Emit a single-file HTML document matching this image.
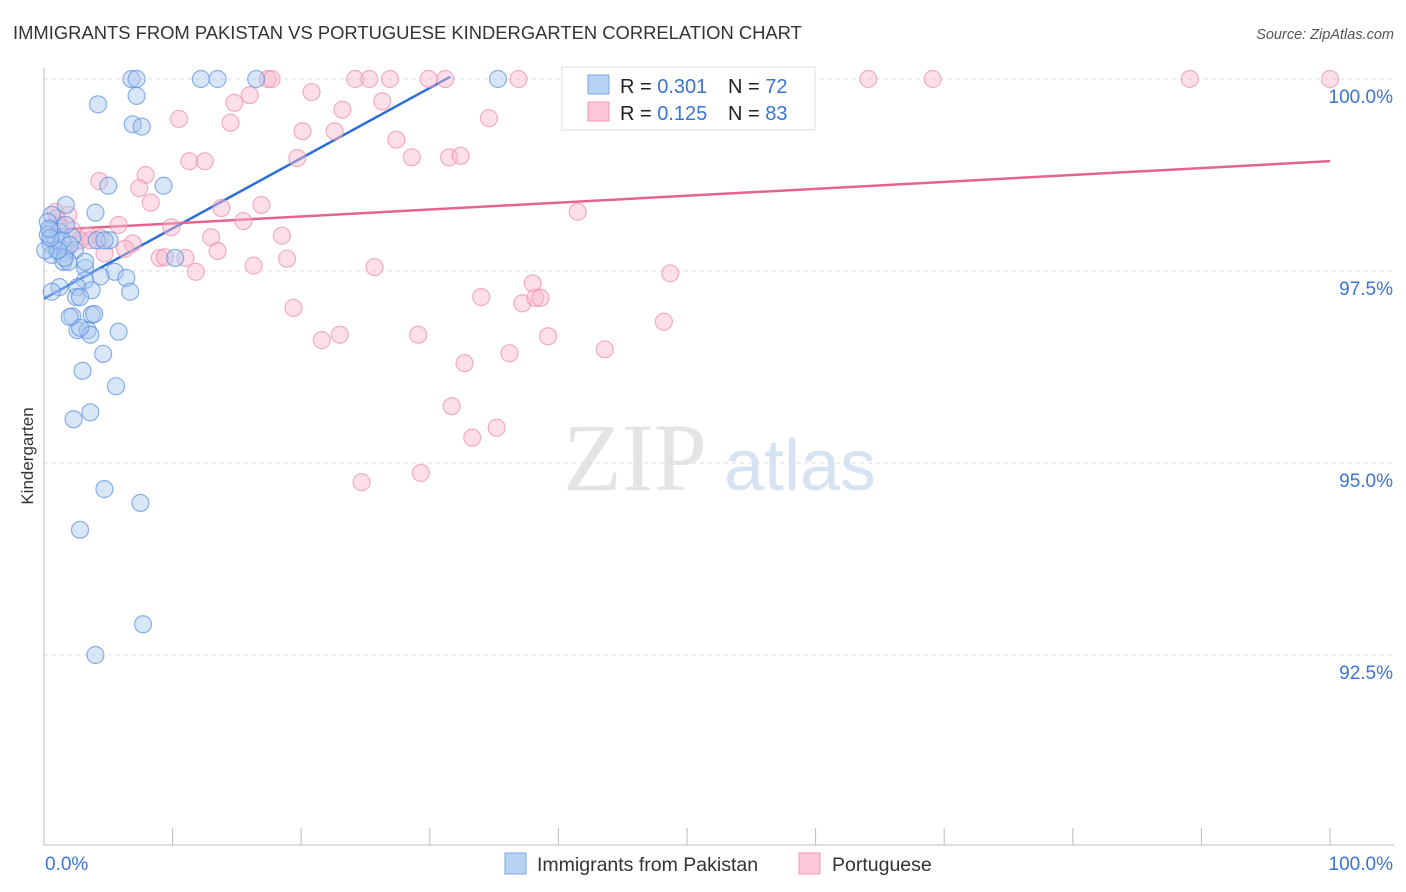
<!DOCTYPE html>
<html><head><meta charset="utf-8"><style>
body{margin:0;background:#fff;font-family:"Liberation Sans",sans-serif;}
svg{display:block}
</style></head><body>
<svg id="chart" width="1406" height="892" xmlns="http://www.w3.org/2000/svg">
<text x="13" y="39" font-size="18.4" fill="#333">IMMIGRANTS FROM PAKISTAN VS PORTUGUESE KINDERGARTEN CORRELATION CHART</text>
<text x="1394" y="39" font-size="14.5" fill="#555" font-style="italic" text-anchor="end">Source: ZipAtlas.com</text>
<text x="33" y="456" font-size="17" fill="#333" text-anchor="middle" transform="rotate(-90 33 456)">Kindergarten</text>
<g><text x="635" y="490" font-size="96" font-family="Liberation Serif,serif" fill="#e4e4e4" text-anchor="middle">ZIP</text><text x="800" y="490" font-size="72" fill="#d6e3f3" text-anchor="middle">atlas</text></g>
<g id="grid"></g><g id="axes"></g><g id="trend"></g><g id="pts"></g>
<g>
<rect x="562" y="67" width="253" height="63" fill="#fff" stroke="#ddd"/>
<rect x="588" y="75" width="21" height="19" fill="#b8d2f3" stroke="#7aaae6"/>
<rect x="588" y="102" width="21" height="19" fill="#fcc8d8" stroke="#f09ab5"/>
<text x="620" y="93" font-size="20" fill="#222">R = <tspan fill="#3a74d4">0.301</tspan></text>
<text x="728" y="93" font-size="20" fill="#222">N = <tspan fill="#3a74d4">72</tspan></text>
<text x="620" y="120" font-size="20" fill="#222">R = <tspan fill="#3a74d4"> 0.125</tspan></text>
<text x="728" y="120" font-size="20" fill="#222">N = <tspan fill="#3a74d4">83</tspan></text>
</g>
<g>
<rect x="505" y="853" width="21" height="21" fill="#b8d2f3" stroke="#7aaae6"/>
<text x="537" y="871" font-size="19.5" fill="#333">Immigrants from Pakistan</text>
<rect x="799" y="853" width="21" height="21" fill="#fcc8d8" stroke="#f09ab5"/>
<text x="832" y="871" font-size="19.5" fill="#333">Portuguese</text>
</g>
</svg>
<script>
const blueX=[6.8,7.2,12.2,13.5,16.5,35.3,4.2,7.2,6.9,7.6,9.3,5.0,1.7,4.0,0.6,0.3,0.6,1.2,2.2,5.1,4.1,0.5,1.0,1.6,2.4,0.6,1.5,1.9,10.2,3.2,5.5,6.4,3.2,1.2,2.6,3.7,0.6,6.7,2.5,2.2,3.7,3.9,2.6,3.4,3.6,5.8,4.6,3.0,5.6,3.6,2.3,4.7,7.5,2.8,7.7,4.0,2.8,0.9,1.4,0.3,2.0,2.8,1.6,1.1,4.7,0.1,0.5,3.2,1.7,2.0,4.4,0.4];
const blueY=[100,100,100,100,100,100,99.67,99.78,99.41,99.38,98.61,98.61,98.36,98.26,98.23,98.14,98.03,98.01,97.94,97.90,97.90,97.84,97.77,97.73,97.77,97.71,97.62,97.62,97.67,97.54,97.49,97.41,97.38,97.29,97.29,97.25,97.23,97.23,97.16,96.91,96.93,96.94,96.73,96.73,96.67,96.71,96.42,96.20,96.00,95.66,95.57,94.66,94.48,94.13,92.90,92.50,97.16,97.90,97.90,97.97,97.84,96.76,97.67,97.77,97.90,97.77,97.93,97.62,98.10,96.90,97.43,98.05];
const pinkX=[17.4,17.7,24.2,25.3,26.9,29.9,31.2,36.9,51.8,64.1,69.1,89.1,100,14.8,16.0,20.8,23.2,26.3,10.5,14.5,20.1,22.6,34.6,27.4,11.3,12.5,19.7,28.6,31.5,32.4,7.9,4.3,7.4,8.3,13.8,16.9,41.5,0.9,1.9,5.8,9.9,15.5,13.0,18.5,3.4,6.9,6.3,4.7,9.0,9.4,11.0,13.5,16.3,18.9,11.8,25.7,48.7,38.0,34.0,37.2,38.2,38.6,19.4,21.6,23.0,29.1,39.2,43.6,48.2,36.2,32.7,31.7,35.2,33.3,24.7,29.3,1.2,2.2,2.8,1.7,4.4,1.0,3.6];
const pinkY=[100,100,100,100,100,100,100,100,100,100,100,100,100,99.69,99.79,99.83,99.60,99.71,99.48,99.43,99.32,99.32,99.49,99.21,98.93,98.93,98.97,98.98,98.98,99.00,98.75,98.67,98.58,98.39,98.32,98.36,98.27,98.27,98.23,98.10,98.07,98.15,97.94,97.96,97.96,97.86,97.79,97.73,97.67,97.68,97.67,97.76,97.57,97.66,97.49,97.55,97.47,97.34,97.16,97.08,97.15,97.15,97.02,96.60,96.67,96.67,96.65,96.48,96.84,96.43,96.30,95.74,95.46,95.33,94.75,94.87,98.10,98.03,97.90,97.77,97.93,98.19,97.90];
const yTicks=[100,97.5,95,92.5];
const yTickLabels=["100.0%","97.5%","95.0%","92.5%"];
const xTicks=[0,10,20,30,40,50,60,70,80,90,100];
const blueTrend=[[0,97.14],[31.6,100.03]];
const pinkTrend=[[0,98.03],[100,98.93]];
const NS="http://www.w3.org/2000/svg";
const sx=v=>44+v*12.86, sy=v=>79+(100-v)*76.8;
function mk(t,a,p){const e=document.createElementNS(NS,t);for(const k in a)e.setAttribute(k,a[k]);p.appendChild(e);return e;}
const grid=document.getElementById('grid'),axes=document.getElementById('axes');
yTicks.forEach((v,i)=>{
 const l=mk('line',{x1:44,x2:1394,y1:sy(v),y2:sy(v),stroke:'#ddd','stroke-dasharray':'4,4'},grid);
 
 
 const t=mk('text',{x:1393,y:sy(v)+24,'font-size':19,fill:'#3a74d4','text-anchor':'end'},axes);
 t.textContent=yTickLabels[i];
 
 
});
const ya=mk('line',{x1:44,x2:44,y1:68,y2:845,stroke:'#bbb'},axes);


const xa=mk('line',{x1:44,x2:1394,y1:845,y2:845,stroke:'#bbb'},axes);


xTicks.forEach(v=>{
 const t=mk('line',{x1:sx(v),x2:sx(v),y1:828,y2:845,stroke:'#bbb'},axes);
 
 
});
const xl0=mk('text',{x:45,y:870,'font-size':19,fill:'#3a74d4'},axes);xl0.textContent='0.0%';


const xl1=mk('text',{x:1393,y:870,'font-size':19,fill:'#3a74d4','text-anchor':'end'},axes);xl1.textContent='100.0%';


const pts=document.getElementById('pts');
function dots(X,Y,fill,stroke,name){X.forEach((x,i)=>{
 const c=mk('circle',{cx:sx(x),cy:sy(Y[i]),r:8.5,fill:fill,'fill-opacity':0.45,stroke:stroke,'stroke-opacity':0.7,'stroke-width':1.2},pts);
 
 
});}
dots(pinkX,pinkY,'#f8b7cb','#ee8fae','portuguese-point');
dots(blueX,blueY,'#aac8f0','#5b92df','pakistan-point');
const tr=document.getElementById('trend');
const bl=mk('line',{x1:sx(blueTrend[0][0]),y1:sy(blueTrend[0][1]),x2:sx(blueTrend[1][0]),y2:sy(blueTrend[1][1]),stroke:'#2d6fd6','stroke-width':2.5},tr);


const pl=mk('line',{x1:sx(pinkTrend[0][0]),y1:sy(pinkTrend[0][1]),x2:sx(pinkTrend[1][0]),y2:sy(pinkTrend[1][1]),stroke:'#e4648e','stroke-width':2.5},tr);


</script>
</body></html>
